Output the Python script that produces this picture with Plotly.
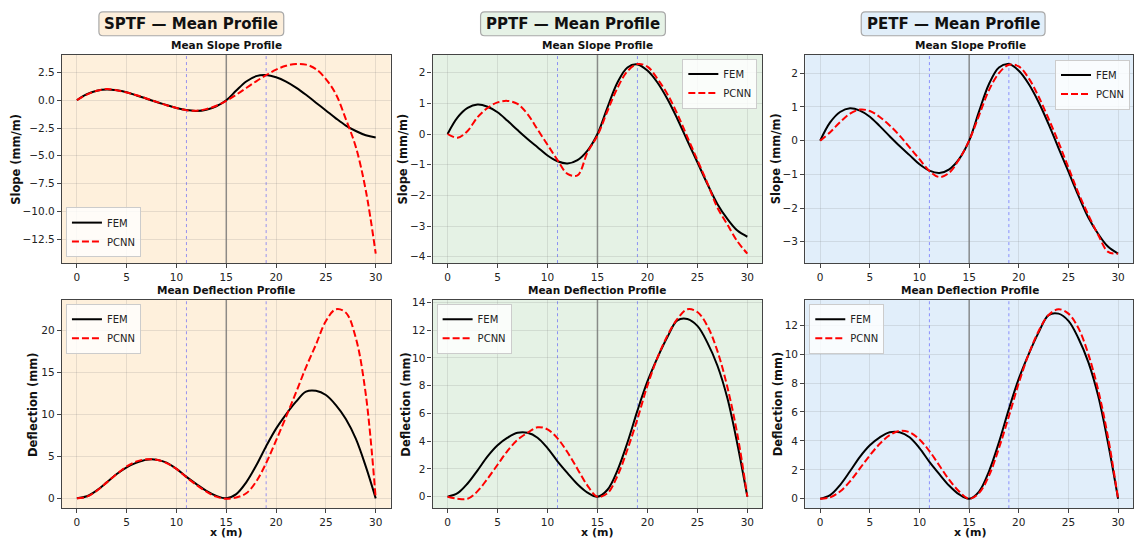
import plotly.graph_objects as go

# ---------------- data ----------------
x_m = list(range(31))

columns = ["SPTF", "PPTF", "PETF"]

fem_slope = [0.0, 0.54, 0.85, 0.96, 0.89, 0.71, 0.43, 0.13, -0.16, -0.43, -0.70, -0.89, -0.96, -0.85, -0.54,
             0.0, 0.87, 1.68, 2.17, 2.27, 2.07, 1.68, 1.14, 0.49, -0.22, -0.92, -1.63, -2.28, -2.77, -3.15, -3.35]
fem_defl = [0.0, 0.25, 0.95, 1.9, 2.9, 3.7, 4.25, 4.6, 4.6, 4.25, 3.5, 2.55, 1.7, 0.9, 0.3,
            0.0, 0.5, 1.9, 3.9, 6.2, 8.3, 10.0, 11.5, 12.7, 12.8, 12.3, 11.1, 9.45, 7.1, 3.8, 0.0]

sptf_pcnn_slope = [0.0, 0.5, 0.85, 1.0, 0.9, 0.7, 0.45, 0.15, -0.15, -0.45, -0.7, -0.9, -0.95, -0.8, -0.5,
                   -0.05, 0.5, 1.1, 1.7, 2.25, 2.75, 3.1, 3.25, 3.2, 2.8, 1.9, 0.55, -1.7, -4.2, -8.1, -13.8]
sptf_pcnn_defl = [0.0, 0.2, 0.9, 1.9, 2.9, 3.8, 4.4, 4.65, 4.6, 4.2, 3.5, 2.5, 1.6, 0.8, 0.2,
                  -0.05, 0.1, 0.6, 2.0, 4.2, 6.9, 9.7, 12.6, 15.6, 18.3, 21.1, 22.5, 22.1, 19.1, 12.4, 0.0]

pptf_pcnn_slope = [0.0, -0.12, 0.1, 0.55, 0.85, 1.03, 1.08, 0.98, 0.65, 0.15, -0.35, -0.85, -1.3, -1.35, -0.6,
                   -0.05, 0.75, 1.5, 2.05, 2.28, 2.2, 1.8, 1.3, 0.65, -0.1, -0.85, -1.6, -2.4, -2.95, -3.5, -3.9]
pptf_pcnn_defl = [0.0, -0.15, -0.15, 0.4, 1.3, 2.3, 3.3, 4.1, 4.6, 5.0, 4.85, 4.2, 3.2, 2.0, 0.8,
                  0.0, 0.25, 1.5, 3.4, 5.6, 8.0, 10.0, 11.6, 12.8, 13.5, 13.3, 12.3, 10.5, 7.9, 4.5, 0.0]

petf_pcnn_slope = [0.0, 0.25, 0.55, 0.8, 0.92, 0.88, 0.7, 0.45, 0.15, -0.2, -0.55, -0.9, -1.08, -0.95, -0.55,
                   0.0, 0.75, 1.5, 2.0, 2.25, 2.2, 1.85, 1.3, 0.65, -0.05, -0.8, -1.55, -2.2, -2.8, -3.3, -3.35]
petf_pcnn_defl = [0.0, 0.1, 0.5, 1.2, 2.1, 3.0, 3.8, 4.4, 4.7, 4.6, 4.1, 3.3, 2.3, 1.3, 0.5,
                  0.0, 0.4, 1.6, 3.5, 5.7, 8.0, 10.0, 11.6, 12.7, 13.1, 12.8, 11.8, 10.0, 7.5, 4.2, 0.0]

pcnn_slopes = [sptf_pcnn_slope, pptf_pcnn_slope, petf_pcnn_slope]
pcnn_defls = [sptf_pcnn_defl, pptf_pcnn_defl, petf_pcnn_defl]

x_ticks = [0, 5, 10, 15, 20, 25, 30]
support_x = 15
marker_xs = [11, 19]

# ---------------- layout geometry (pixels) ----------------
W, H = 1134, 541
col_px = [(62, 391), (433, 763), (806, 1136)]
row_px = [(51, 261), (298, 508)]
bg_colors = ["#FEF0DC", "#E5F2E5", "#E1EEFA"]
box_colors = ["#FCEEDB", "#E6F2E6", "#E1EEF9"]
title_boxes = [(99, 284), (481, 666), (862, 1046)]
y_dticks = [[2.5, 5], [1, 2], [1, 2]]
y_fmts = [[".1f", ""], ["", ""], ["", ""]]
legend_pos = [
    [(66, 255, "left", "bottom"), (66, 302, "left", "top")],
    [(758, 55, "right", "top"), (437, 302, "left", "top")],
    [(1131, 56, "right", "top"), (810, 302, "left", "top")],
]
ylabel_x = [[16, 33], [403, 406], [777, 779]]


def px(v):
    return v / W


def py(v):
    return 1 - v / H


def padded(vals):
    lo, hi = min(vals), max(vals)
    m = (hi - lo) * 0.05
    return [lo - m, hi + m]


FONT = "DejaVu Sans"
fig = go.Figure()
bg_shapes = []
line_shapes = []
box_shapes = []
annotations = []
layout = {}

for c in range(3):
    x0, x1 = col_px[c]
    # plot backgrounds
    for r in range(2):
        y0, y1 = row_px[r]
        bg_shapes.append(dict(type="rect", xref="paper", yref="paper", x0=px(x0), x1=min(px(x1), 1.0),
                              y0=py(y1), y1=py(y0), fillcolor=bg_colors[c], line=dict(width=0), layer="below"))
    for r in range(2):
        idx = r * 3 + c + 1
        xa = "x" if idx == 1 else f"x{idx}"
        ya = "y" if idx == 1 else f"y{idx}"
        xkey = "xaxis" if idx == 1 else f"xaxis{idx}"
        ykey = "yaxis" if idx == 1 else f"yaxis{idx}"
        leg = "legend" if idx == 1 else f"legend{idx}"
        fem = fem_slope if r == 0 else fem_defl
        pc = pcnn_slopes[c] if r == 0 else pcnn_defls[c]

        fig.add_trace(go.Scatter(x=x_m, y=fem, mode="lines", name="FEM",
                                 line=dict(color="black", width=2, shape="spline", smoothing=1.0),
                                 xaxis=xa, yaxis=ya, legend=leg))
        fig.add_trace(go.Scatter(x=x_m, y=pc, mode="lines", name="PCNN",
                                 line=dict(color="#FF0000", width=2, dash="7px,3px", shape="spline", smoothing=1.0),
                                 xaxis=xa, yaxis=ya, legend=leg))

        y0, y1 = row_px[r]
        common = dict(showline=True, mirror=True, linecolor="#444444", linewidth=1.3,
                      ticks="outside", ticklen=4, tickcolor="#444444", tickwidth=1,
                      showgrid=True, gridcolor="rgba(120,120,120,0.18)", gridwidth=1,
                      zeroline=False,
                      tickfont=dict(family=FONT, size=10.5, color="#222222"))
        layout[xkey] = dict(domain=[px(x0), min(px(x1), 1.0)], anchor=ya, range=[-1.5, 31.5],
                            tickvals=x_ticks, **common)
        yrange = padded(fem + pc)
        layout[ykey] = dict(domain=[py(y1), py(y0)], anchor=xa, range=yrange,
                            dtick=y_dticks[c][r], tick0=0, tickformat=y_fmts[c][r], **common)

        # vertical reference lines
        line_shapes.append(dict(type="line", xref=xa, yref=f"{ya} domain", x0=support_x, x1=support_x,
                                y0=0, y1=1, line=dict(color="rgba(110,110,110,0.75)", width=1.5), layer="below"))
        for mx in marker_xs:
            line_shapes.append(dict(type="line", xref=xa, yref=f"{ya} domain", x0=mx, x1=mx, y0=0, y1=1,
                                    line=dict(color="rgba(70,70,255,0.7)", width=0.8, dash="dot"), layer="below"))

        # subplot title
        annotations.append(dict(text="<b>Mean Slope Profile</b>" if r == 0 else "<b>Mean Deflection Profile</b>",
                                x=px((x0 + min(x1, 1134)) / 2 if c < 2 else (x0 + x1) / 2), y=py(y0 - 2),
                                xref="paper", yref="paper", xanchor="center", yanchor="bottom",
                                showarrow=False, font=dict(family=FONT, size=10.5, color="#111111")))
        # y label
        annotations.append(dict(text="<b>Slope (mm/m)</b>" if r == 0 else "<b>Deflection (mm)</b>",
                                x=px(ylabel_x[c][r]), y=py((y0 + y1) / 2), xref="paper", yref="paper",
                                xanchor="center", yanchor="middle", textangle=-90, showarrow=False,
                                font=dict(family=FONT, size=11.5, color="#111111")))
        # legend
        lx, ly, xanc, yanc = legend_pos[c][r]
        layout[leg] = dict(x=px(lx), y=py(ly), xanchor=xanc, yanchor=yanc, xref="paper", yref="paper",
                           bgcolor="rgba(255,255,255,0.8)", bordercolor="#CCCCCC", borderwidth=1,
                           font=dict(family=FONT, size=10, color="#222222"), itemwidth=30,
                           tracegroupgap=0)

    # x label (bottom row)
    annotations.append(dict(text="<b>x (m)</b>", x=px((x0 + x1) / 2), y=py(532), xref="paper", yref="paper",
                            xanchor="center", yanchor="middle", showarrow=False,
                            font=dict(family=FONT, size=11, color="#111111")))
    # column title box (rounded)
    bx0, bx1 = title_boxes[c]
    by0, by1 = 8, 32
    rr = 4
    path = (f"M {px(bx0 + rr)},{py(by0)} L {px(bx1 - rr)},{py(by0)} Q {px(bx1)},{py(by0)} {px(bx1)},{py(by0 + rr)} "
            f"L {px(bx1)},{py(by1 - rr)} Q {px(bx1)},{py(by1)} {px(bx1 - rr)},{py(by1)} "
            f"L {px(bx0 + rr)},{py(by1)} Q {px(bx0)},{py(by1)} {px(bx0)},{py(by1 - rr)} "
            f"L {px(bx0)},{py(by0 + rr)} Q {px(bx0)},{py(by0)} {px(bx0 + rr)},{py(by0)} Z")
    box_shapes.append(dict(type="path", xref="paper", yref="paper", path=path, fillcolor=box_colors[c],
                           line=dict(color="#A8A8A8", width=1.2), layer="above"))
    annotations.append(dict(text=f"<b>{columns[c]} — Mean Profile</b>", x=px((bx0 + bx1) / 2),
                            y=py((by0 + by1) / 2), xref="paper", yref="paper", xanchor="center",
                            yanchor="middle", showarrow=False,
                            font=dict(family=FONT, size=15, color="#111111")))

fig.update_layout(
    width=W, height=H, margin=dict(l=0, r=0, t=0, b=0),
    paper_bgcolor="white", plot_bgcolor="rgba(0,0,0,0)",
    shapes=bg_shapes + line_shapes + box_shapes, annotations=annotations, **layout,
)

fig.write_html("out.html")
